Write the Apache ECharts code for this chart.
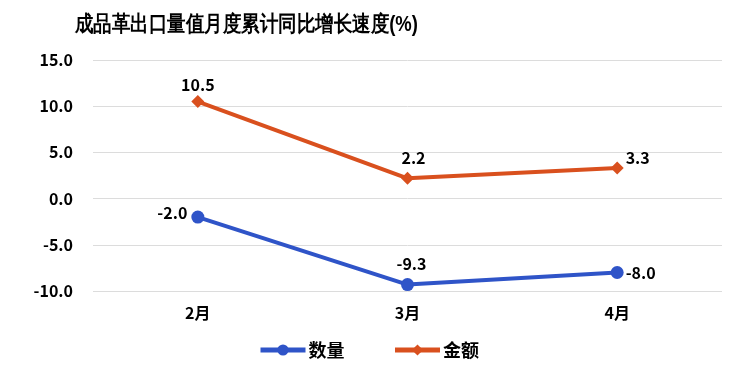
<!DOCTYPE html>
<html><head><meta charset="utf-8">
<script src="https://cdn.jsdelivr.net/npm/echarts@6/dist/echarts.min.js"></script>
<style>html,body{margin:0;padding:0;background:#fff}#c{width:750px;height:370px}</style>
</head><body><div id="c"></div>
<script>
const categories = ['2月','3月','4月'];
const quantity = [-2.0, -9.3, -8.0];
const amount = [10.5, 2.2, 3.3];
const yTicks = [-10, -5, 0, 5, 10, 15];
const titleText = '成品革出口量值月度累计同比增长速度(%)';

const FONT = "'Noto Sans CJK SC','Noto Sans',sans-serif";
const chart = echarts.init(document.getElementById('c'));
const lbl = {show:true, color:'#000', fontWeight:'bold', fontSize:16, fontFamily:FONT, formatter:p=>p.value.toFixed(1)};
chart.setOption({
  animation:false,
  graphic:[{type:'text', left:75, top:14, scaleX:0.84, originX:0,
    style:{text:titleText, fontSize:22, fontWeight:'bold', fill:'#000', font:"bold 22px 'Noto Sans CJK SC', sans-serif"}}],
  grid:{left:93, right:28, top:60, bottom:79},
  legend:{bottom:6, left:253, itemWidth:45, itemHeight:14, itemGap:48,
    lineStyle:{width:5},
    textStyle:{fontSize:18, fontWeight:'bold', color:'#000', fontFamily:FONT, padding:[0,0,0,-2]},
    data:['数量','金额']},
  xAxis:{type:'category', data:categories, boundaryGap:true,
    axisLine:{show:false}, axisTick:{show:false},
    axisLabel:{color:'#000', fontWeight:'bold', fontSize:16, fontFamily:FONT, margin:14}},
  yAxis:{type:'value', min:yTicks[0], max:yTicks[yTicks.length-1], interval:5,
    axisLine:{show:false}, axisTick:{show:false},
    splitLine:{lineStyle:{color:'#dcdcdc', width:1}},
    axisLabel:{color:'#000', fontWeight:'bold', fontSize:16, fontFamily:FONT, margin:20,
      formatter:v=>v.toFixed(1)}},
  series:[
    {name:'数量', type:'line', data:quantity.map((v,i)=>({value:v,
        label:[{position:'left',offset:[2,-4]},{position:'top',offset:[4,0]},{position:'right',offset:[-4,0]}][i]})),
      symbol:'circle', symbolSize:13,
      lineStyle:{color:'#2F54C8', width:4}, itemStyle:{color:'#2F54C8'},
      label:Object.assign({}, lbl, {distance:6})},
    {name:'金额', type:'line', data:amount.map((v,i)=>({value:v,
        label:[{position:'top',offset:[0,4]},{position:'top',offset:[6,0]},{position:'right',offset:[-4,-10]}][i]})),
      symbol:'diamond', symbolSize:13,
      lineStyle:{color:'#D9501E', width:4}, itemStyle:{color:'#D9501E'},
      label:Object.assign({}, lbl, {distance:6})}
  ]
});
</script></body></html>
